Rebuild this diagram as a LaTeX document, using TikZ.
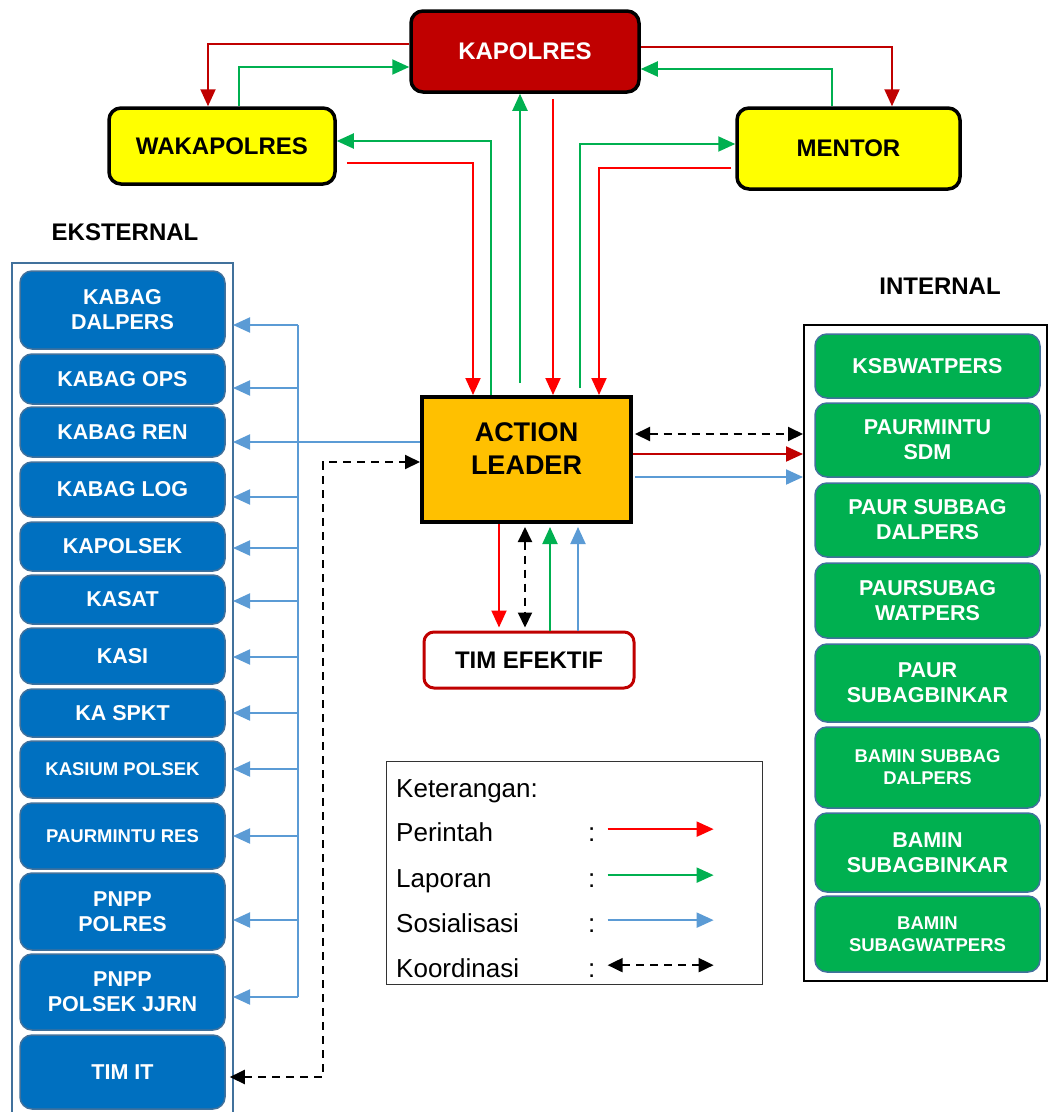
\documentclass[tikz,border=0pt]{standalone}
\usepackage{fontspec}
\setmainfont{Liberation Sans}
\usetikzlibrary{arrows.meta, calc}

\definecolor{kapred}{HTML}{C00000}
\definecolor{cmdred}{HTML}{FF0000}
\definecolor{repgreen}{HTML}{00B050}
\definecolor{socblue}{HTML}{5B9BD5}
\definecolor{boxyellow}{HTML}{FFFF00}
\definecolor{leadorange}{HTML}{FFC000}
\definecolor{extblue}{HTML}{0070C0}
\definecolor{boxedge}{HTML}{41719C}

\begin{document}
\begin{tikzpicture}[x=1pt, y=-1pt,
        chief/.style={rounded corners=12pt, draw=black, line width=3.5pt, inner sep=0pt,
            font=\bfseries\fontsize{24}{28}\selectfont},
        ebox/.style={rounded corners=12pt, fill=extblue, draw=boxedge, line width=1.5pt, text=white,
            font=\bfseries\fontsize{21.5}{25}\selectfont, align=center, minimum width=205pt, inner sep=0pt},
        ibox/.style={rounded corners=12pt, fill=repgreen, draw=boxedge, line width=1.5pt, text=white,
            font=\bfseries\fontsize{21.5}{25}\selectfont, align=center, minimum width=225pt, inner sep=0pt},
        small/.style={font=\bfseries\fontsize{18.5}{22}\selectfont},
        legtext/.style={anchor=base west, inner sep=0pt, font=\fontsize{26}{30}\selectfont},
        cmd/.style={line width=2pt, cmdred, -{Triangle[length=17pt, width=15pt]}},
        cmdD/.style={line width=2pt, kapred, -{Triangle[length=17pt, width=15pt]}},
        rep/.style={line width=2pt, repgreen, -{Triangle[length=17pt, width=15pt]}},
        soc/.style={line width=2pt, socblue, -{Triangle[length=17pt, width=15pt]}},
        coord/.style={line width=2pt, black, dash pattern=on 8pt off 6pt,
            {Triangle[length=15pt, width=14pt]}-{Triangle[length=15pt, width=14pt]}},
        ]
    \useasboundingbox (0,0) rectangle (1048,1112);

    % top of the structure
    \node (kapolres) [chief, fill=kapred, text=white, minimum width=228pt, minimum height=81pt] at (525,51.5) {KAPOLRES};
    \node (waka) [chief, fill=boxyellow, minimum width=226pt, minimum height=76pt] at (222,146) {WAKAPOLRES};
    \node (mentor) [chief, fill=boxyellow, minimum width=223pt, minimum height=81pt] at (848.5,148.5) {MENTOR};

    \node (leader) [draw, line width=4pt, fill=leadorange, minimum width=209pt, minimum height=125pt] at (526.5,459.5) {};
    \node (leadertxt) [font=\bfseries\fontsize{27}{33}\selectfont, align=center] at ([yshift=11pt]leader.center) {ACTION\\LEADER};
    \node (tim) [rounded corners=10pt, draw=kapred, line width=3pt, fill=white, minimum width=210pt, minimum height=56pt,
        font=\bfseries\fontsize{24}{28}\selectfont] at (529,660) {TIM EFEKTIF};

    % eksternal
    \node (extlabel) [font=\bfseries\fontsize{24}{28}\selectfont] at (125,232) {EKSTERNAL};
    \draw [line width=2pt, boxedge] (12,1112) |- (233,263) coordinate (extne) -- (233,1112);
    \foreach \nm/\cy/\hh/\txt in {
            e1/310/78/{KABAG\\DALPERS}, e2/379/50/{KABAG OPS}, e3/432/50/{KABAG REN},
            e4/489.5/55/{KABAG LOG}, e5/546.5/49/{KAPOLSEK}, e6/599.5/49/{KASAT},
            e7/656/56/{KASI}, e8/713/48/{KA SPKT},
            e9/769.5/57/{\fontsize{18.5}{22}\selectfont KASIUM POLSEK},
            e10/836/66/{\fontsize{18.5}{22}\selectfont PAURMINTU RES},
            e11/911.5/77/{PNPP\\POLRES}, e12/992/76/{PNPP\\POLSEK JJRN}, e13/1072/74/{TIM IT}}
        \node (\nm) [ebox, minimum height=\hh pt] at (122.5,\cy) {\txt};

    % internal
    \node (intlabel) [font=\bfseries\fontsize{24}{28}\selectfont] at (940,286) {INTERNAL};
    \node (intl) [draw, line width=2pt, minimum width=243pt, minimum height=656pt] at (925.5,653) {};
    \node (i1) [ibox, minimum height=64pt] at (927.5,366) {KSBWATPERS};
    \node (i2) [ibox, minimum height=74pt] at (927.5,440) {PAURMINTU\\SDM};
    \node (i3) [ibox, minimum height=74pt] at (927.5,520) {PAUR SUBBAG\\DALPERS};
    \node (i4) [ibox, minimum height=75pt] at (927.5,600.5) {PAURSUBAG\\WATPERS};
    \node (i5) [ibox, minimum height=78pt] at (927.5,683) {PAUR\\SUBAGBINKAR};
    \node (i6) [ibox, small, minimum height=81pt] at (927.5,767.5) {BAMIN SUBBAG\\DALPERS};
    \node (i7) [ibox, minimum height=79pt] at (927.5,852.5) {BAMIN\\SUBAGBINKAR};
    \node (i8) [ibox, small, minimum height=76pt] at (927.5,934) {BAMIN\\SUBAGWATPERS};

    % kapolres, wakapolres, mentor
    \draw [cmdD] ([yshift=7.5pt]kapolres.west) -| ([xshift=-14pt]waka.north);
    \draw [rep] ([xshift=17pt]waka.north) |- ([yshift=-15.5pt]kapolres.west);
    \draw [cmdD] ([yshift=4.5pt]kapolres.east) -| ([xshift=43.5pt]mentor.north);
    \draw [rep] ([xshift=-16.5pt]mentor.north) |- ([yshift=-17.5pt]kapolres.east);

    % into and out of the action leader, top
    \draw [rep] ([xshift=-35.5pt]leader.north) |- ([yshift=5pt]waka.east);
    \draw [cmd] ([xshift=10pt, yshift=-17pt]waka.east) -| ([xshift=-53.5pt]leader.north);
    \draw [rep] ([xshift=-6.5pt, yshift=12pt]leader.north) coordinate (g1) -- (g1 |- kapolres.south);
    \path ([xshift=26.5pt]leader.north) coordinate (r1);
    \draw [cmd] ($(r1 |- kapolres.south)+(0,5)$) -- (r1);
    \draw [rep] ([xshift=53.5pt, yshift=7pt]leader.north) |- ([yshift=4.5pt]mentor.west);
    \draw [cmd] ([xshift=-4pt, yshift=-19.5pt]mentor.west) -| ([xshift=72.5pt]leader.north);

    % action leader and internal
    \path ([yshift=25.5pt]leader.east) coordinate (rt1)
          ([yshift=5.5pt]leader.east) coordinate (rt2)
          ([yshift=-17.5pt]leader.east) coordinate (rt3);
    \draw [coord, shorten <=2pt] (rt1) -- (rt1 -| intl.west);
    \draw [cmdD] (rt2) -- (rt2 -| intl.west);
    \draw [soc, shorten <=2pt] (rt3) -- (rt3 -| intl.west);

    % action leader and tim efektif
    \path ([xshift=-27.5pt]leader.south) coordinate (b1)
          ([xshift=-1.5pt]leader.south) coordinate (b2)
          ([xshift=23.5pt]leader.south) coordinate (b3)
          ([xshift=51.5pt]leader.south) coordinate (b4);
    \draw [cmd, shorten >=3pt] (b1) -- (b1 |- tim.north);
    \draw [coord, shorten <=3pt, shorten >=3pt] (b2) -- (b2 |- tim.north);
    \draw [rep, shorten >=3pt] (b3 |- tim.north) -- (b3);
    \draw [soc, shorten >=3pt] (b4 |- tim.north) -- (b4);

    % action leader and eksternal
    \path ([yshift=17.5pt]leader.west) coordinate (lw);
    \draw [soc] (lw) -- (lw -| extne);
    \coordinate (bustop) at (298,325);
    \coordinate (busbot) at (298,997);
    \draw [line width=2pt, socblue] (bustop) -- (busbot);
    \foreach \y [count=\k] in {325,388,497,548,601,657,713,769,836,920,997} {
        \coordinate (bus\k) at (298,\y);
        \draw [soc] (bus\k) -- (bus\k -| extne);
    }
    \draw [coord] ([xshift=4pt, yshift=-5pt]e13.east) -- ++(93,0) |- ([yshift=-2.5pt]leader.west);

    % keterangan
    \node (legend) [draw=black!80, line width=1pt, minimum width=376pt, minimum height=223pt] at (574,872.5) {};
    \node (kettxt) [legtext] at (396,797) {Keterangan:};
    \foreach \lbl/\y/\sty [count=\k] in {Perintah/841/cmd, Laporan/887/rep, Sosialisasi/932/soc, Koordinasi/977/coord} {
        \node (lg\k) [legtext] at (396,\y) {\lbl};
        \node (lc\k) [legtext] at (588,\y) {:};
        \draw [\sty] ([xshift=12pt, yshift=5pt]lc\k.east) -- ++(106,0);
    }
\end{tikzpicture}
\end{document}
